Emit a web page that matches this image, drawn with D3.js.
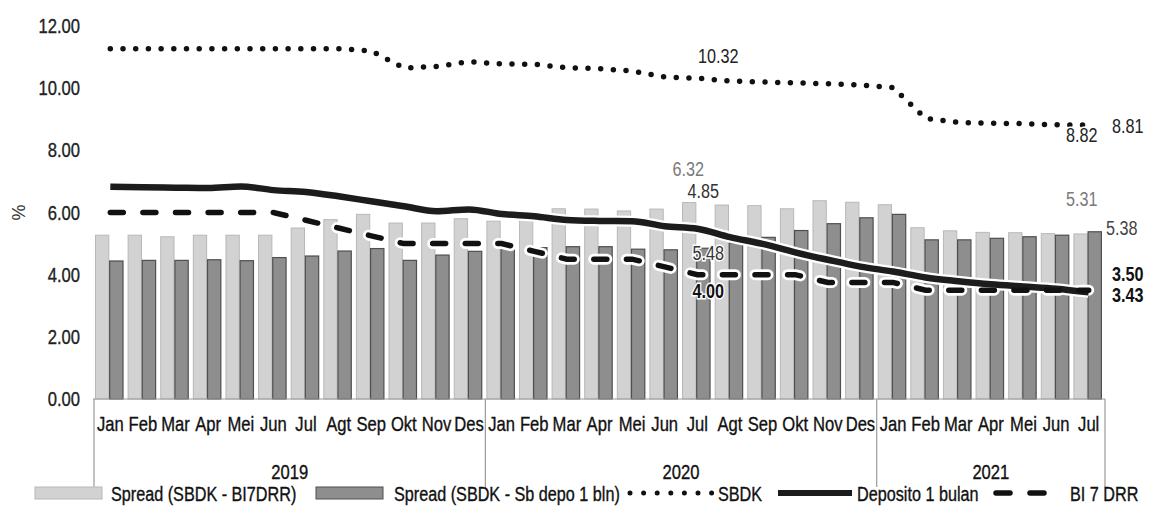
<!DOCTYPE html>
<html>
<head>
<meta charset="utf-8">
<script src="https://cdn.jsdelivr.net/npm/d3@7"></script>
<style>
  html, body { margin: 0; padding: 0; background: #fff; }
  svg { display: block; }
</style>
</head>
<body>
<svg id="chart" width="1151" height="506"></svg>
<script>
// Monthly rates, Jan 2019 – Jul 2021 (%)
const months = ["Jan","Feb","Mar","Apr","Mei","Jun","Jul","Agt","Sep","Okt","Nov","Des",
                "Jan","Feb","Mar","Apr","Mei","Jun","Jul","Agt","Sep","Okt","Nov","Des",
                "Jan","Feb","Mar","Apr","Mei","Jun","Jul"];
const years = ["2019", "2020", "2021"];
const monthsPerYear = [12, 12, 7];

const sbdk = [11.27, 11.27, 11.27, 11.27, 11.27, 11.27, 11.27, 11.27, 11.20, 10.65, 10.70, 10.85,
              10.78, 10.77, 10.66, 10.63, 10.55, 10.36, 10.32, 10.23, 10.20, 10.17, 10.14, 10.10,
              10.02, 9.03, 8.90, 8.87, 8.86, 8.82, 8.81];
const deposito = [6.83, 6.81, 6.80, 6.79, 6.84, 6.72, 6.66, 6.52, 6.36, 6.20, 6.04, 6.10,
                  5.95, 5.88, 5.76, 5.73, 5.72, 5.56, 5.48, 5.21, 4.99, 4.72, 4.48, 4.26,
                  4.10, 3.91, 3.79, 3.69, 3.62, 3.55, 3.43];
const bi7drr = [6.00, 6.00, 6.00, 6.00, 6.00, 6.00, 5.75, 5.50, 5.25, 5.00, 5.00, 5.00,
                5.00, 4.75, 4.50, 4.50, 4.50, 4.25, 4.00, 4.00, 4.00, 4.00, 3.75, 3.75,
                3.75, 3.50, 3.50, 3.50, 3.50, 3.50, 3.50];
const spreadBI = [5.27, 5.27, 5.22, 5.27, 5.27, 5.27, 5.50, 5.77, 5.94, 5.66, 5.66, 5.80,
                  5.72, 6.02, 6.12, 6.11, 6.05, 6.11, 6.32, 6.24, 6.22, 6.12, 6.38, 6.33,
                  6.25, 5.51, 5.41, 5.36, 5.35, 5.32, 5.31];
const spreadDepo = [4.44, 4.46, 4.46, 4.48, 4.45, 4.55, 4.60, 4.76, 4.84, 4.46, 4.63, 4.75,
                    4.82, 4.87, 4.90, 4.90, 4.82, 4.80, 4.85, 5.02, 5.20, 5.42, 5.64, 5.83,
                    5.94, 5.12, 5.12, 5.17, 5.22, 5.27, 5.38];
const yTicks = [0, 2, 4, 6, 8, 10, 12];
const legendNames = ["Spread (SBDK - BI7DRR)", "Spread (SBDK - Sb depo 1 bln)", "SBDK", "Deposito 1 bulan", "BI 7 DRR"];

// Condensed lettering: use a narrow face when present, otherwise squeeze the regular one.
const ctx = document.createElement("canvas").getContext("2d");
ctx.font = "20px 'Liberation Sans Narrow'";
const wNarrow = ctx.measureText("Deposito 1 bulan").width;
ctx.font = "20px 'Liberation Sans'";
const wSans = ctx.measureText("Deposito 1 bulan").width;
const hasNarrow = wNarrow / wSans < 0.9;
const fontFamily = hasNarrow ? "'Liberation Sans Narrow', sans-serif" : "'Liberation Sans', Arial, sans-serif";
const squeeze = hasNarrow ? 1 : 0.81;

function condense(sel) {
  sel.each(function () {
    const t = d3.select(this);
    const tx = +t.attr("x") || 0;
    t.attr("transform", `translate(${tx},0) scale(${squeeze},1) translate(${-tx},0)`);
  });
}
// slightly heavier strokes for plain labels
function ink(sel, color) {
  sel.attr("fill", color).attr("stroke", color).attr("stroke-width", 0.35);
}

const svg = d3.select("#chart").style("font-family", fontFamily);
const idx = d3.range(months.length);

const x = d3.scaleBand().domain(idx).range([94, 1105]).padding(0);
const xc = i => x(i) + x.bandwidth() / 2;
const xSub = d3.scaleBand().domain(["bi", "depo"]).range([1.5, 29]).paddingInner(0.06);
const y = d3.scaleLinear().domain([0, 12]).range([399, 26]);

const lightFill = "#d2d2d2", lightStroke = "#b8b8b8";
const darkFill = "#8e8e8e", darkStroke = "#4f4f4f";

// y axis
const yAxis = svg.append("g")
  .attr("transform", "translate(80,0)")
  .call(d3.axisLeft(y).tickValues(yTicks).tickFormat(d3.format(".2f")).tickSize(0).tickPadding(0));
yAxis.select(".domain").remove();
yAxis.selectAll("text").attr("font-size", 20.5).attr("font-family", null).call(ink, "#222").call(condense);

svg.append("text")
  .attr("transform", `translate(20,${y(6)}) rotate(-90)`)
  .attr("text-anchor", "middle")
  .attr("dominant-baseline", "middle")
  .attr("font-size", 18).attr("fill", "#333")
  .text("%");

// bars
const bars = svg.append("g");
bars.selectAll("rect.bi").data(idx).join("rect")
  .attr("class", "bi")
  .attr("x", i => x(i) + xSub("bi"))
  .attr("width", xSub.bandwidth())
  .attr("y", i => y(spreadBI[i]))
  .attr("height", i => y(0) - y(spreadBI[i]))
  .attr("fill", lightFill).attr("stroke", lightStroke).attr("stroke-width", 1);
bars.selectAll("rect.depo").data(idx).join("rect")
  .attr("class", "depo")
  .attr("x", i => x(i) + xSub("depo"))
  .attr("width", xSub.bandwidth())
  .attr("y", i => y(spreadDepo[i]))
  .attr("height", i => y(0) - y(spreadDepo[i]))
  .attr("fill", darkFill).attr("stroke", darkStroke).attr("stroke-width", 1.2);

// x axis: month labels, baseline and year separators
const xAxis = svg.append("g")
  .attr("transform", `translate(0,${y(0)})`)
  .call(d3.axisBottom(x).tickFormat(i => months[i]).tickSize(0).tickPadding(17));
xAxis.select(".domain").remove();
xAxis.selectAll("text").attr("font-size", 20.5).attr("font-family", null).call(ink, "#111").call(condense);

svg.append("line")
  .attr("x1", 93).attr("x2", 1105).attr("y1", y(0)).attr("y2", y(0))
  .attr("stroke", "#9a9a9a").attr("stroke-width", 1.2);

const bounds = [0];
monthsPerYear.forEach(n => bounds.push(bounds[bounds.length - 1] + n));
const boundX = b => b < months.length ? x(b) : x(months.length - 1) + x.bandwidth();
svg.append("g").selectAll("line").data(bounds).join("line")
  .attr("x1", b => boundX(b)).attr("x2", b => boundX(b))
  .attr("y1", y(0)).attr("y2", 487)
  .attr("stroke", "#9a9a9a").attr("stroke-width", 1.2);
svg.append("g").selectAll("text").data(years).join("text")
  .attr("x", (d, k) => (boundX(bounds[k]) + boundX(bounds[k + 1])) / 2)
  .attr("y", 479)
  .attr("text-anchor", "middle")
  .attr("font-size", 20.5)
  .text(d => d)
  .call(ink, "#111")
  .call(condense);

// lines
const smooth = arr => d3.line().x(i => xc(i)).y(i => y(arr[i])).curve(d3.curveMonotoneX)(idx);
const straight = arr => d3.line().x(i => xc(i)).y(i => y(arr[i]))(idx);

// white halos where the lines cross the bars
svg.append("path").attr("d", smooth(deposito))
  .attr("fill", "none").attr("stroke", "#fff").attr("stroke-width", 11).attr("stroke-linejoin", "round");
svg.append("path").attr("d", straight(bi7drr))
  .attr("fill", "none").attr("stroke", "#fff").attr("stroke-width", 11)
  .attr("stroke-dasharray", "13 19.6").attr("stroke-linecap", "round");

svg.append("path").attr("d", smooth(deposito))
  .attr("fill", "none").attr("stroke", "#1c1c1c").attr("stroke-width", 6.5).attr("stroke-linejoin", "round");
svg.append("path").attr("d", straight(bi7drr))
  .attr("fill", "none").attr("stroke", "#111").attr("stroke-width", 5.5)
  .attr("stroke-dasharray", "13 19.6").attr("stroke-linecap", "round");
svg.append("path").attr("d", straight(sbdk))
  .attr("fill", "none").attr("stroke", "#111").attr("stroke-width", 5.5)
  .attr("stroke-dasharray", "0 12.7").attr("stroke-linecap", "round");

// value annotations
const jul20 = 18, jul21 = 30;
const notes = [
  { i: jul20, v: sbdk[jul20], dx: 21, dy: -20, color: "#222", weight: "normal" },
  { i: jul20, v: spreadBI[jul20], dx: -9, dy: -32, color: "#7a7a7a", weight: "normal" },
  { i: jul20, v: spreadDepo[jul20], dx: 6, dy: -56, color: "#333", weight: "normal" },
  { i: jul20, v: deposito[jul20], dx: 11, dy: 26, color: "#333", weight: "normal" },
  { i: jul20, v: bi7drr[jul20], dx: 11, dy: 18, color: "#111", weight: "bold" },
  { i: jul21, v: 8.82, dx: -7, dy: 12, color: "#222", weight: "normal" },
  { i: jul21, v: sbdk[jul21], dx: 39, dy: 3, color: "#222", weight: "normal" },
  { i: jul21, v: spreadBI[jul21], dx: -7, dy: -33, color: "#7a7a7a", weight: "normal" },
  { i: jul21, v: spreadDepo[jul21], dx: 33, dy: -2, color: "#444", weight: "normal" },
  { i: jul21, v: bi7drr[jul21], dx: 39, dy: -14, color: "#111", weight: "bold" },
  { i: jul21, v: deposito[jul21], dx: 39, dy: 4, color: "#111", weight: "bold" }
];
svg.append("g").selectAll("text").data(notes).join("text")
  .attr("x", d => xc(d.i) + d.dx)
  .attr("y", d => y(d.v) + d.dy)
  .attr("text-anchor", "middle")
  .attr("dominant-baseline", "middle")
  .attr("font-size", 20)
  .attr("font-weight", d => d.weight)
  .attr("fill", d => d.color)
  .attr("stroke", "#fff").attr("stroke-width", 3).attr("paint-order", "stroke")
  .text(d => d3.format(".2f")(d.v))
  .call(condense);

// legend
const lg = svg.append("g");
const ly = 493;
lg.append("rect").attr("x", 35).attr("y", 487).attr("width", 67).attr("height", 12)
  .attr("fill", lightFill).attr("stroke", lightStroke);
lg.append("rect").attr("x", 316).attr("y", 487).attr("width", 67).attr("height", 12)
  .attr("fill", darkFill).attr("stroke", darkStroke);
lg.append("line").attr("x1", 630).attr("x2", 712).attr("y1", ly).attr("y2", ly)
  .attr("stroke", "#111").attr("stroke-width", 5).attr("stroke-dasharray", "0 13.6").attr("stroke-linecap", "round");
lg.append("line").attr("x1", 778).attr("x2", 852).attr("y1", ly).attr("y2", ly)
  .attr("stroke", "#1c1c1c").attr("stroke-width", 6);
lg.append("line").attr("x1", 996).attr("x2", 1064).attr("y1", ly).attr("y2", ly)
  .attr("stroke", "#111").attr("stroke-width", 5.5).attr("stroke-dasharray", "14 20 14 20 0 40").attr("stroke-linecap", "round");
const legendX = [111, 394, 718, 857, 1070];
lg.selectAll("text").data(legendNames).join("text")
  .attr("x", (d, k) => legendX[k])
  .attr("y", 501)
  .attr("font-size", 20)
  .text(d => d)
  .call(ink, "#111")
  .call(condense);
</script>
</body>
</html>
